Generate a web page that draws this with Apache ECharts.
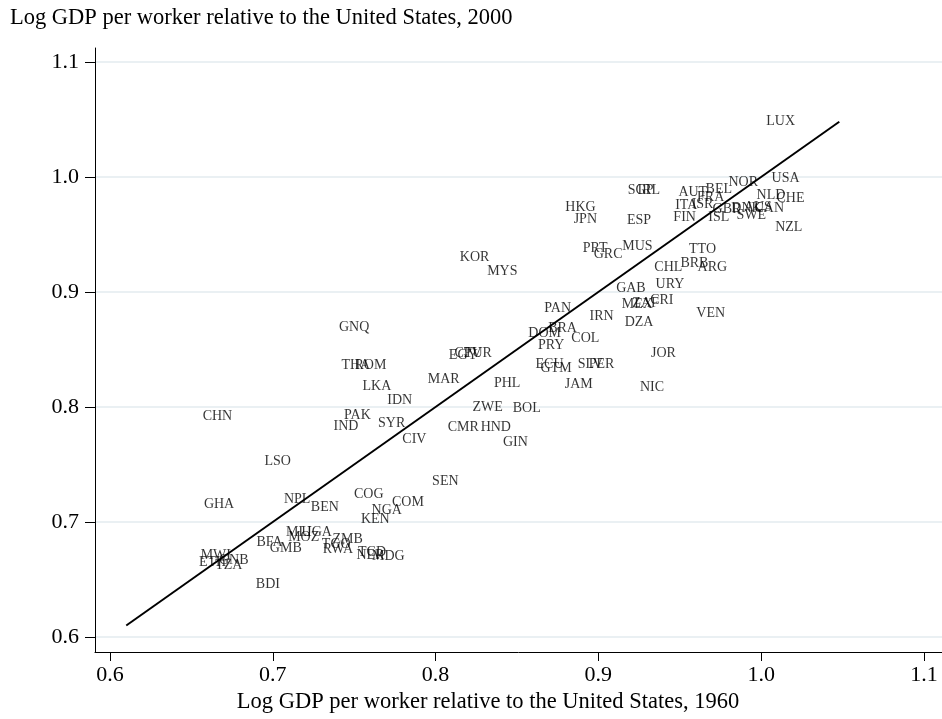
<!DOCTYPE html>
<html>
<head>
<meta charset="utf-8">
<script src="https://cdn.jsdelivr.net/npm/echarts@6/dist/echarts.min.js"></script>
<style>
html,body{margin:0;padding:0;background:#fff;}
#chart{width:942px;height:719px;}
</style>
</head>
<body>
<div id="chart"></div>
<script>
// Country codes
const countries = [
  "LUX","USA","NOR","BEL","AUT","SGP","IRL","FRA","NLD","CHE",
  "ITA","ISR","GBR","DNK","AUS","CAN","SWE","ISL","FIN","ESP",
  "NZL","HKG","JPN","MUS","PRT","GRC","TTO","BRB","ARG","CHL",
  "URY","GAB","MEX","ZAF","CRI","VEN","PAN","IRN","DZA","DOM",
  "BRA","COL","PRY","JOR","ECU","GTM","SLV","PER","JAM","NIC",
  "KOR","MYS","GNQ","EGY","CPV","TUR","THA","ROM","LKA","MAR",
  "PHL","IDN","ZWE","BOL","PAK","IND","SYR","CMR","HND","CIV",
  "GIN","CHN","LSO","SEN","GHA","NPL","BEN","COG","COM","NGA",
  "KEN","MLI","UGA","MOZ","ZMB","TGO","RWA","TCD","NER","MDG",
  "BFA","GMB","MWI","ETH","GNB","TZA","BDI"
];
// Log GDP per worker relative to the US, 1960 (x)
const gdp1960 = [
  1.012,1.015,0.989,0.974,0.958,0.926,0.931,0.969,1.006,1.018,
  0.954,0.964,0.979,0.991,0.998,1.005,0.994,0.974,0.953,0.925,
  1.017,0.889,0.892,0.924,0.898,0.906,0.964,0.959,0.970,0.943,
  0.944,0.920,0.924,0.929,0.939,0.969,0.875,0.902,0.925,0.867,
  0.878,0.892,0.871,0.940,0.870,0.874,0.895,0.902,0.888,0.933,
  0.824,0.841,0.750,0.817,0.820,0.826,0.751,0.760,0.764,0.805,
  0.844,0.778,0.832,0.856,0.752,0.745,0.773,0.817,0.837,0.787,
  0.849,0.666,0.703,0.806,0.667,0.715,0.732,0.759,0.783,0.770,
  0.763,0.716,0.727,0.719,0.746,0.739,0.740,0.761,0.760,0.771,
  0.698,0.708,0.665,0.663,0.676,0.673,0.697
];
// Log GDP per worker relative to the US, 2000 (y)
const gdp2000 = [
  1.048,0.999,0.995,0.989,0.987,0.988,0.988,0.982,0.984,0.981,
  0.975,0.976,0.972,0.973,0.974,0.973,0.967,0.965,0.965,0.962,
  0.956,0.974,0.963,0.940,0.938,0.933,0.937,0.925,0.921,0.921,
  0.907,0.903,0.889,0.890,0.893,0.881,0.886,0.879,0.874,0.864,
  0.868,0.860,0.854,0.847,0.837,0.834,0.837,0.837,0.820,0.817,
  0.930,0.918,0.869,0.845,0.847,0.847,0.836,0.836,0.818,0.824,
  0.821,0.806,0.800,0.799,0.793,0.783,0.786,0.782,0.782,0.772,
  0.769,0.792,0.753,0.735,0.715,0.720,0.713,0.724,0.717,0.710,
  0.702,0.691,0.691,0.687,0.685,0.681,0.676,0.674,0.671,0.670,
  0.682,0.677,0.671,0.665,0.667,0.662,0.646
];
// 45-degree reference line range
const lineRange = [0.61, 1.048];
// Tick values
const xTicks = [0.6, 0.7, 0.8, 0.9, 1.0, 1.1];
const yTicks = [0.6, 0.7, 0.8, 0.9, 1.0, 1.1];

const FONT = '"Liberation Serif","DejaVu Serif",serif';
const points = countries.map((c, i) => ({ name: c, value: [gdp1960[i], gdp2000[i]] }));

const chart = echarts.init(document.getElementById('chart'), null, { renderer: 'canvas' });
chart.setOption({
  animation: false,
  backgroundColor: '#ffffff',
  title: {
    text: 'Log GDP per worker relative to the United States, 2000',
    left: 5, top: 2,
    textStyle: { fontFamily: FONT, fontSize: 22.5, fontWeight: 'normal', color: '#000' }
  },
  grid: { left: 95, top: 48, right: 0, bottom: 64, containLabel: false },
  xAxis: {
    type: 'value',
    min: 0.5908, max: 1.1111,
    name: 'Log GDP per worker relative to the United States, 1960',
    nameLocation: 'middle',
    nameGap: 39,
    nameTextStyle: { fontFamily: FONT, fontSize: 22.5, color: '#000', padding: [0, 61, 0, 0] },
    axisLine: { show: true, onZero: false, lineStyle: { color: '#000', width: 1 } },
    axisTick: { show: true, length: 9, customValues: xTicks, lineStyle: { color: '#000', width: 1 } },
    axisLabel: { customValues: xTicks, margin: 12, fontFamily: FONT, fontSize: 22, color: '#000',
      formatter: v => v.toFixed(1) },
    splitLine: { show: false }
  },
  yAxis: {
    type: 'value',
    min: 0.587, max: 1.1121,
    axisLine: { show: true, onZero: false, lineStyle: { color: '#000', width: 1 } },
    axisTick: { show: true, length: 10, customValues: yTicks, lineStyle: { color: '#000', width: 1 } },
    axisLabel: { customValues: yTicks, margin: 16, fontFamily: FONT, fontSize: 22, color: '#000',
      formatter: v => v.toFixed(1) },
    splitLine: { show: true, lineStyle: { color: '#e3ebef', width: 1.5 } }
  },
  series: [
    {
      type: 'scatter',
      data: points,
      symbolSize: 0,
      label: {
        show: true, position: 'inside', formatter: '{b}',
        fontFamily: FONT, fontSize: 14, color: '#000'
      },
      emphasis: { disabled: true },
      z: 3
    },
    {
      type: 'line',
      data: [[lineRange[0], lineRange[0]], [lineRange[1], lineRange[1]]],
      showSymbol: false,
      symbol: 'none',
      lineStyle: { color: '#000', width: 2 },
      z: 2
    }
  ]
});
</script>
</body>
</html>
